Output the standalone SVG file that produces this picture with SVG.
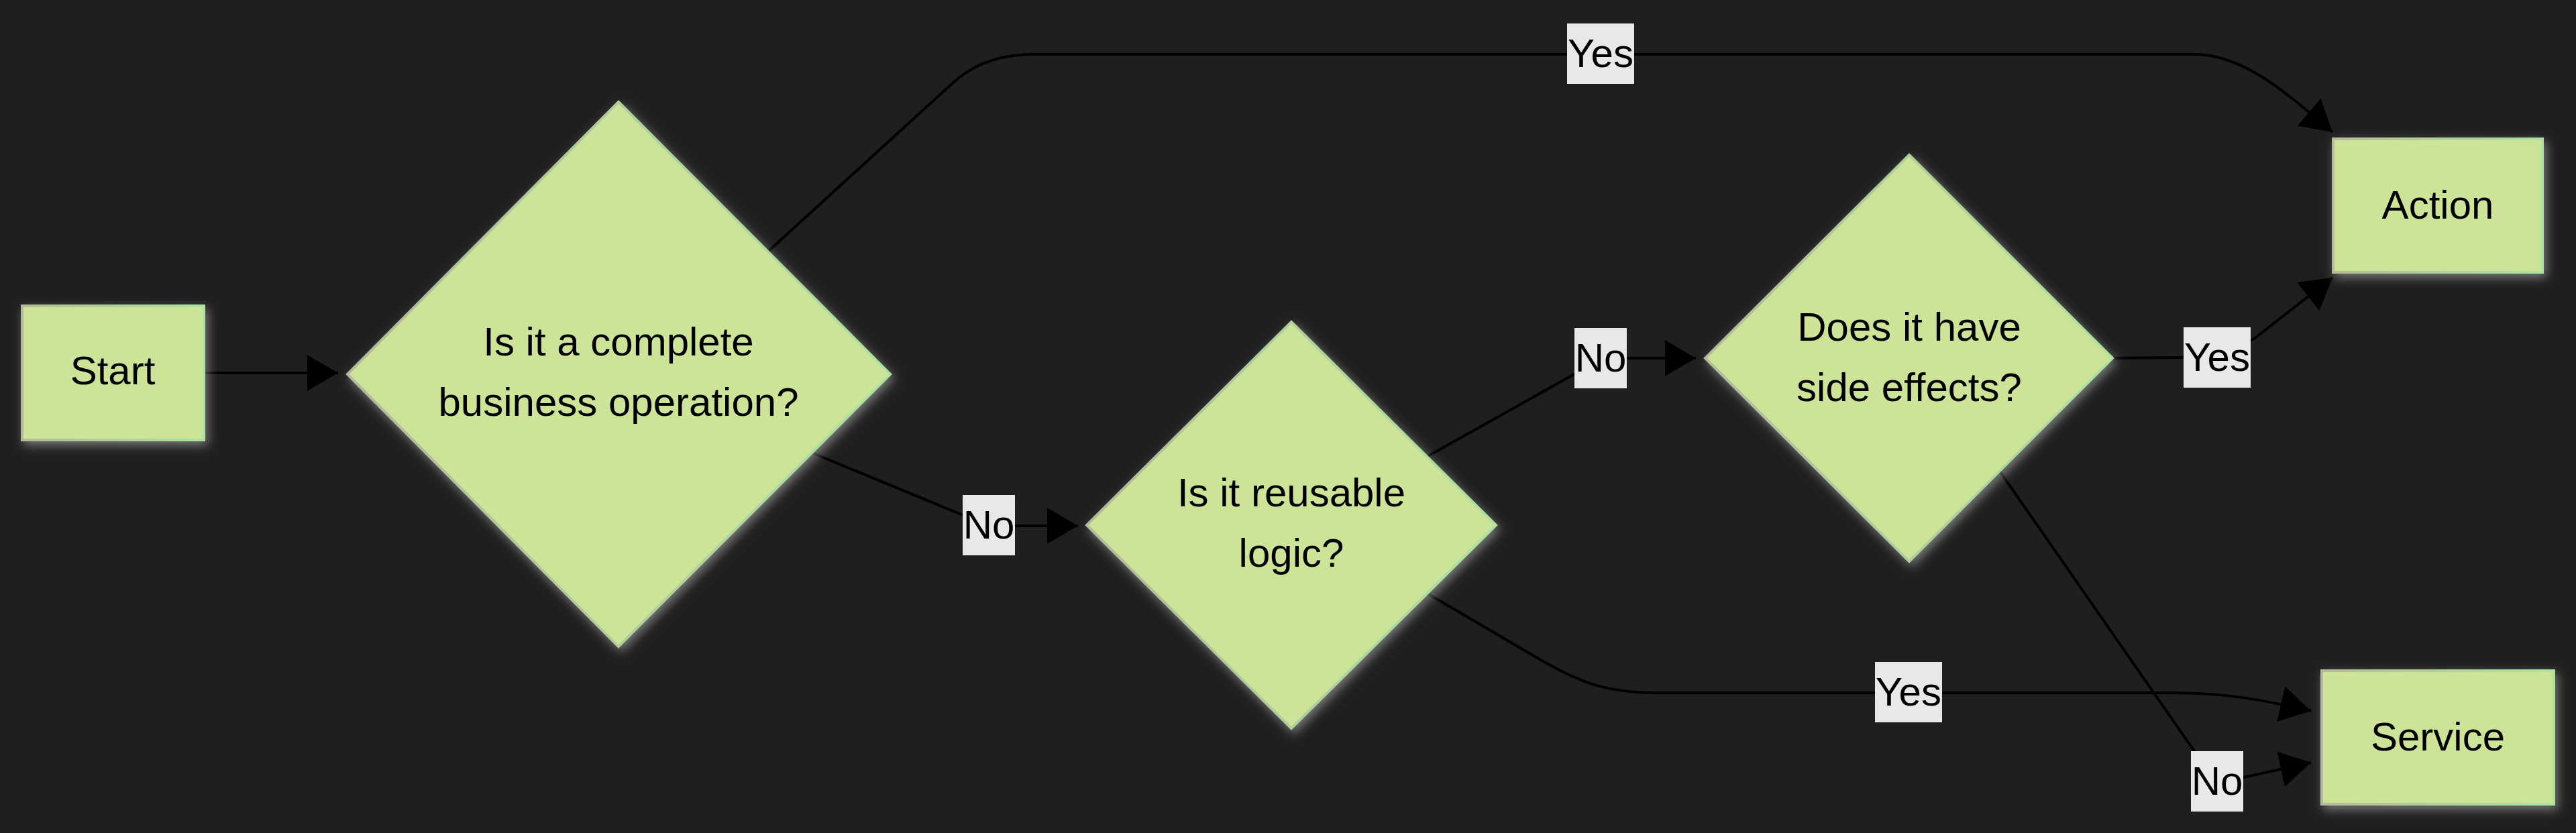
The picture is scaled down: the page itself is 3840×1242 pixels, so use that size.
<svg xmlns="http://www.w3.org/2000/svg" width="3840" height="1242" viewBox="0 0 3840 1242">
  <defs>
    <style>
      .node-shape { fill: #cde498; stroke: url(#nodeStroke); stroke-width: 4; filter: url(#glow); }
      .node-text { font-family: "Liberation Sans", Arial, sans-serif; font-size: 60px; fill: #000000; text-anchor: middle; }
      .edge { fill: none; stroke: #000000; stroke-width: 4; marker-end: url(#arrow); }
      .label-bg { fill: #e8e8e8; }
      .label-text { font-family: "Liberation Sans", Arial, sans-serif; font-size: 60px; fill: #000000; text-anchor: middle; }
    </style>
    <linearGradient id="nodeStroke" x1="0" y1="0" x2="1" y2="0">
      <stop offset="0" stop-color="#b3bb98"/>
      <stop offset="1" stop-color="#ace39e"/>
    </linearGradient>
    <filter id="glow" x="-20%" y="-20%" width="140%" height="140%">
      <feDropShadow dx="4" dy="6" stdDeviation="8" flood-color="#ffffff" flood-opacity="0.4"/>
    </filter>
    <marker id="arrow" viewBox="0 0 10 10" refX="10" refY="5" markerUnits="userSpaceOnUse" markerWidth="46" markerHeight="54" orient="auto" preserveAspectRatio="none">
      <path d="M0,0 L10,5 L0,10 z" fill="#000000"/>
    </marker>
  </defs>

  <rect x="0" y="0" width="3840" height="1242" fill="#1f1f1f"/>

  <g id="connectors">
    <path class="edge" d="M304,556 L504,556"/>
    <path class="edge" d="M1146,374 L1420,124 Q1466,81 1540,81 L3270,81 C3345,81 3410,140 3477,197"/>
    <path class="edge" d="M1210,675 L1440,770 Q1474,784 1520,784 L1607,784"/>
    <path class="edge" d="M2127,681 L2350,556 Q2386,534 2430,534 L2528,534"/>
    <path class="edge" d="M2128,885 L2290,980 C2350,1015 2390,1033 2470,1033 L3240,1033 C3320,1033 3380,1045 3445,1060"/>
    <path class="edge" d="M3149,534 L3250,533 Q3305,532 3360,505 L3477,414"/>
    <path class="edge" d="M2982,704 L3285,1140 Q3300,1162 3340,1160 L3445,1137"/>
  </g>

  <g id="edge-labels">
    <g id="label-d1-action-yes">
      <rect class="label-bg" x="2336" y="35" width="100" height="90"/>
      <text class="label-text" x="2386" y="100">Yes</text>
    </g>
    <g id="label-d1-d2-no">
      <rect class="label-bg" x="1435" y="738" width="78" height="90"/>
      <text class="label-text" x="1474" y="803">No</text>
    </g>
    <g id="label-d2-d3-no">
      <rect class="label-bg" x="2347" y="489" width="78" height="90"/>
      <text class="label-text" x="2386" y="554">No</text>
    </g>
    <g id="label-d2-service-yes">
      <rect class="label-bg" x="2795" y="987" width="100" height="90"/>
      <text class="label-text" x="2845" y="1052">Yes</text>
    </g>
    <g id="label-d3-action-yes">
      <rect class="label-bg" x="3255" y="488" width="100" height="90"/>
      <text class="label-text" x="3305" y="553">Yes</text>
    </g>
    <g id="label-d3-service-no">
      <rect class="label-bg" x="3266" y="1120" width="78" height="90"/>
      <text class="label-text" x="3305" y="1185">No</text>
    </g>
  </g>

  <g id="node-start">
    <rect class="node-shape" x="33" y="456" width="271" height="200"/>
    <text class="node-text" x="168" y="573">Start</text>
  </g>

  <g id="node-d1">
    <polygon class="node-shape" points="922,152 1327,558 922,964 518,558"/>
    <text class="node-text" x="922" y="530">Is it a complete</text>
    <text class="node-text" x="922" y="620">business operation?</text>
  </g>

  <g id="node-d2">
    <polygon class="node-shape" points="1925,480 2230,783 1925,1086 1620,783"/>
    <text class="node-text" x="1925" y="755">Is it reusable</text>
    <text class="node-text" x="1925" y="845">logic?</text>
  </g>

  <g id="node-d3">
    <polygon class="node-shape" points="2846,231 3149,534 2846,837 2542,534"/>
    <text class="node-text" x="2846" y="508">Does it have</text>
    <text class="node-text" x="2846" y="598">side effects?</text>
  </g>

  <g id="node-action">
    <rect class="node-shape" x="3478" y="207" width="312" height="199"/>
    <text class="node-text" x="3634" y="326">Action</text>
  </g>

  <g id="node-service">
    <rect class="node-shape" x="3461" y="1000" width="346" height="199"/>
    <text class="node-text" x="3634" y="1119">Service</text>
  </g>
</svg>
